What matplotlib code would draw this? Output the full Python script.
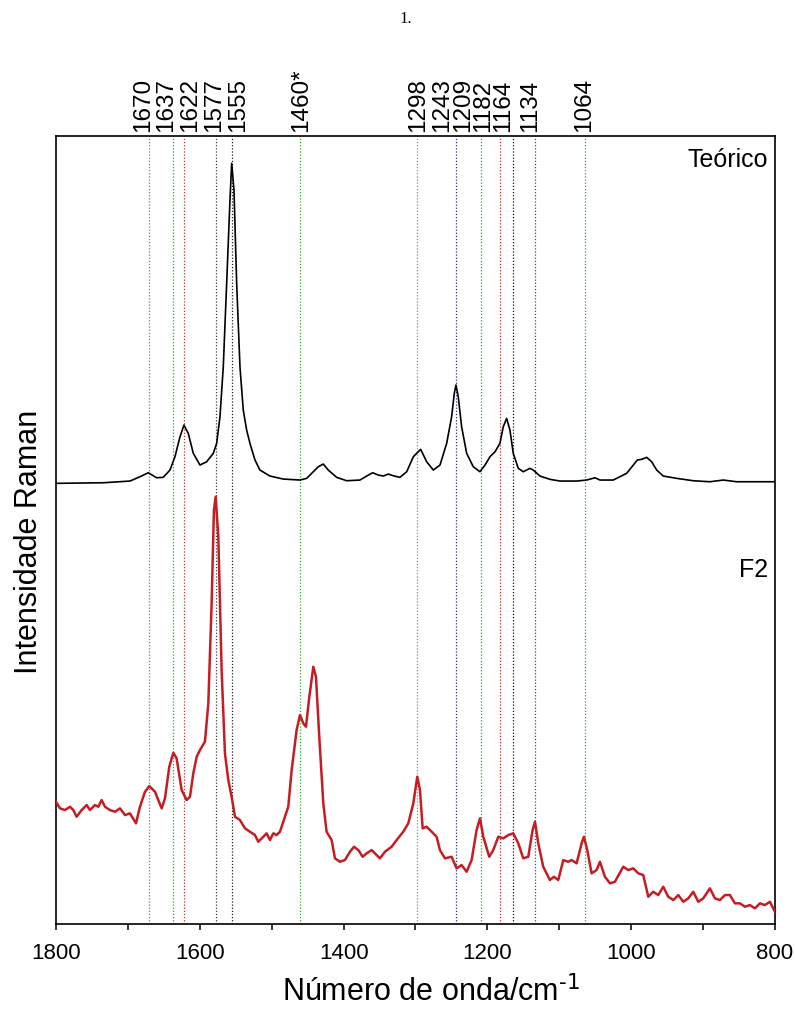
import numpy as np
import matplotlib
matplotlib.use("Agg")
import matplotlib.pyplot as plt

plt.rcParams['font.family'] = ['Liberation Sans', 'DejaVu Sans']
plt.rcParams['mathtext.default'] = 'regular'

# spectra (wavenumber / intensity, arbitrary units with offset)
theo_w = [1800, 1734, 1697, 1683.2, 1671.6, 1660, 1650.8, 1641.4, 1634.5, 1627.5,
          1622, 1616, 1609, 1599.7, 1590.4, 1581.2, 1576.5, 1571.9, 1567.3, 1562.6,
          1558, 1555.6, 1552.4, 1548.7, 1544.1, 1539.5, 1534.8, 1530.2, 1523.2, 1516.3,
          1502.4, 1483.9, 1460.6, 1451.3, 1442.1, 1435.2, 1428.2, 1421.3, 1409.6, 1395.7,
          1377.2, 1367.9, 1359.5, 1351.7, 1344.8, 1337.8, 1330.9, 1321.6, 1312.2, 1303,
          1292.8, 1284.4, 1275.2, 1265.9, 1256.6, 1249.7, 1246, 1243.7, 1240.5, 1235.8,
          1228.8, 1219.6, 1210.3, 1203.3, 1196.4, 1189.4, 1182.5, 1177.9, 1173.2, 1168.6,
          1164, 1157, 1150.1, 1140.8, 1136.2, 1126.8, 1112.9, 1099, 1075.8, 1061.9,
          1050.3, 1043.4, 1024.9, 1006.3, 997, 991.5, 985.4, 978.4, 971.5, 964.5,
          955.3, 936.7, 913.6, 890.4, 871.9, 853.3, 800]
theo_y = [440.7, 441.3, 443, 447.3, 451.3, 446.3, 446.7, 454, 467.3, 487.3,
          499, 490.7, 470.7, 459, 462.3, 470.7, 480.7, 507.3, 557.3, 640.7,
          724, 760.7, 734, 640.7, 557.3, 514, 494, 480.7, 464, 454,
          448, 445, 444, 445.7, 452.3, 457.3, 460, 454, 446.7, 443.3,
          444, 448, 451.3, 449, 448, 450, 448.3, 446.7, 452.3, 467.3,
          474.7, 462.3, 454, 459, 480.7, 507.3, 530.7, 539, 527.3, 497.3,
          470.7, 457.3, 452.3, 459, 467.3, 472.3, 480.7, 497.3, 505.7, 494,
          470.7, 455.7, 452.3, 455.7, 454, 448, 444.7, 443, 443, 444,
          446.3, 444, 444, 450.7, 459, 464, 464.7, 466.7, 462.3, 454,
          448, 445.7, 443.3, 442.3, 444, 442.3, 442.3]

f2_w = [1800, 1794.4, 1787.5, 1780.5, 1775.9, 1771.3, 1764.3, 1757.3, 1752.7, 1745.8,
        1741.1, 1736.5, 1731.8, 1724.9, 1717.9, 1711, 1704, 1697.1, 1688.7, 1683.2,
        1676.2, 1670.2, 1662.3, 1653, 1648.4, 1642.4, 1636.8, 1632.2, 1625.2, 1618.3,
        1613.6, 1609, 1604.3, 1599.7, 1592.8, 1588.1, 1583.5, 1580.3, 1577.9, 1574.2,
        1569.6, 1565, 1560.3, 1555.7, 1551, 1544.1, 1537.1, 1530.2, 1523.2, 1518.6,
        1511.6, 1507, 1502.4, 1497.7, 1493.1, 1488.5, 1481.5, 1476.9, 1472.2, 1465.3,
        1460.6, 1456, 1452.3, 1447.6, 1442.1, 1438.4, 1433.8, 1428.2, 1423.6, 1416.6,
        1412, 1405, 1398.1, 1391.1, 1385.5, 1379.5, 1373.5, 1367.9, 1361, 1354,
        1349.4, 1342.4, 1333.2, 1326.2, 1317, 1310, 1303, 1297.5, 1293.7, 1290,
        1284.5, 1279.8, 1270.6, 1266, 1259, 1249.7, 1242.8, 1235.8, 1228.9, 1221.9,
        1215, 1210.3, 1205.7, 1197.4, 1191.8, 1184.8, 1177.9, 1170.9, 1164, 1157,
        1150.1, 1143.1, 1137.1, 1133.8, 1129.2, 1122.3, 1113, 1107.4, 1101.4, 1094.4,
        1087.5, 1082.8, 1075.9, 1068.9, 1065.7, 1061.1, 1055, 1048.1, 1043.4, 1036.5,
        1029.5, 1022.6, 1011, 1004, 997.1, 990.1, 983.2, 976.2, 969.3, 962.3,
        955.4, 948.4, 941.4, 934.5, 927.5, 920.6, 913.6, 906.7, 899.7, 890.5,
        883.5, 876.5, 869.6, 862.6, 855.7, 848.7, 841.8, 834.8, 827.9, 820.9,
        814, 807, 800.1]
f2_y = [122.3, 115.7, 114, 117.3, 114, 107.3, 114, 119, 114, 119,
        117.3, 124, 117.3, 114, 112.3, 115.7, 109, 110.7, 100.7, 117.3,
        132.3, 138, 132.3, 115.7, 125.7, 157.3, 171.3, 165.7, 134, 124,
        127.3, 150.7, 167.3, 174, 182.3, 220.7, 320.7, 414, 427.3, 387.3,
        254, 170.7, 144, 127.3, 107.3, 104, 95.7, 92.3, 89, 82.3,
        87.3, 90.7, 84, 90.7, 89, 92.3, 107.3, 117.3, 154, 194,
        209, 200.7, 197.3, 227.3, 257.3, 247.3, 187.3, 120.7, 92.3, 84,
        65.7, 62.3, 64, 72.3, 77.3, 74, 67.3, 70.7, 74, 69,
        65.7, 72.3, 77.3, 84, 92.3, 100.7, 120.7, 147.3, 134, 95.7,
        97.3, 94, 87.3, 74, 65.7, 67.3, 55.7, 59, 52.3, 64,
        94, 105.7, 87.3, 67.3, 74, 87.3, 85.7, 89, 90.7, 80.7,
        65.7, 67.3, 94, 102.3, 80.7, 57.3, 44, 47.3, 44, 64,
        62.3, 64, 60.7, 80.7, 87.3, 74, 50.7, 54, 62.3, 47.3,
        40.7, 42.3, 57.3, 54, 55.7, 50.7, 49, 27.3, 32.3, 29,
        37.3, 27.3, 24, 29, 22.3, 25.7, 32.3, 22.3, 25.7, 35.7,
        25.7, 24, 29, 29, 20.7, 20.7, 17.3, 19, 15.7, 20.7,
        19, 22.3, 12.3]

# band markers
band_w = [1670, 1637, 1622, 1577, 1555, 1460, 1298, 1243, 1209, 1182, 1164, 1134, 1064]
band_lbl = ['1670', '1637', '1622', '1577', '1555', '1460*', '1298', '1243',
            '1209', '1182', '1164', '1134', '1064']
band_col = ['#7878a0', '#22b022', '#c03030', '#404040', '#202020', '#22b022', '#8c8c8c',
            '#30308c', '#22b022', '#d02828', '#101010', '#4040b0', '#22b022']
label_x = [1679, 1647, 1613.6, 1580.3, 1546.9, 1459.3, 1296.5, 1263.1, 1234,
           1206.1, 1178.3, 1140.8, 1065.7]

fig = plt.figure(figsize=(7.95, 10.10), dpi=100)
ax = fig.add_axes([0.0704, 0.0851, 0.9044, 0.7802])

for w, c in zip(band_w, band_col):
    ax.axvline(w, color=c, ls=(0, (1, 1.5)), lw=0.9, zorder=1)

ax.plot(theo_w, theo_y, color='black', lw=1.2, zorder=3)
ax.plot(f2_w, f2_y, color='#c41e24', lw=1.8, zorder=3)

for lx, t in zip(label_x, band_lbl):
    ax.annotate(t, xy=(lx, 1.0), xycoords=('data', 'axes fraction'),
                xytext=(0, 3), textcoords='offset points',
                rotation=90, ha='center', va='bottom', fontsize=17.5)

ax.text(809.7, 757, 'Teórico', ha='right', va='baseline', fontsize=18)
ax.text(809.7, 347, 'F2', ha='right', va='baseline', fontsize=18)

ax.set_xlim(1800, 800)
ax.set_ylim(0, 788)
ax.set_xticks([1800, 1600, 1400, 1200, 1000, 800])
ax.set_xticks(np.arange(800, 1801, 100), minor=True)
ax.set_yticks([])
ax.tick_params(axis='x', which='both', direction='out', length=4, width=1.1,
               labelsize=16, pad=10)
for s in ax.spines.values():
    s.set_linewidth(1.2)

ax.set_xlabel('Número de onda/cm$^{\\text{-1}}$', fontsize=22)
ax.xaxis.set_label_coords(0.5216, -0.066)
ax.set_ylabel('Intensidade Raman', fontsize=22)
ax.yaxis.set_label_coords(-0.017, 0.485)

fig.text(406 / 795, 1 - 23 / 1010, '1.', ha='center', va='baseline',
         family='Liberation Serif', fontsize=12)

fig.savefig('out.png', dpi=100)
